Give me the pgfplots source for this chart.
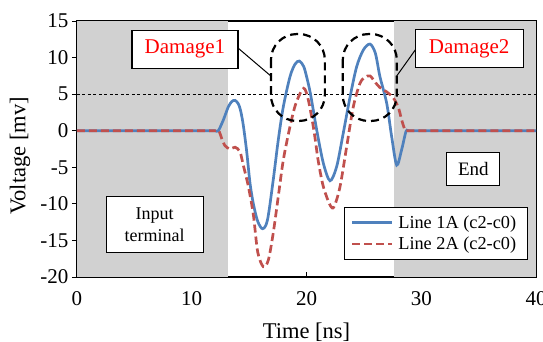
\documentclass[border=0pt]{standalone}
\usepackage{pgfplots}
\pgfplotsset{compat=1.18}
\usepackage{fontspec}
\setmainfont{Liberation Serif}
\definecolor{bgray}{RGB}{209,209,209}
\definecolor{lblue}{RGB}{79,129,189}
\definecolor{lred}{RGB}{192,80,77}
\begin{document}
\begin{tikzpicture}
\begin{axis}[
  at={(0,0)}, anchor=south west,
  width=459pt, height=256pt, scale only axis,
  xmin=0, xmax=40, ymin=-20, ymax=15,
  xtick={0,10,20,30,40}, ytick={-20,-15,...,15},
  xtick pos=lower, ytick pos=left,
  tick align=inside, major tick length=5pt,
  y tick style={xshift=-5pt},
  tick style={black, line width=0.8pt},
  axis line style={black, line width=1.1pt},
  /pgf/number format/assume math mode=true,
  ticklabel style={font=\fontsize{21}{21}\selectfont},
  xticklabel style={yshift=-11pt},
  yticklabel style={xshift=-5pt},
  xlabel={Time [ns]}, ylabel={Voltage [mv]},
  label style={font=\fontsize{22.5}{22.5}\selectfont},
  xlabel style={at={(axis description cs:0.5,0)}, anchor=north, inner sep=0pt, yshift=-46pt},
  ylabel style={at={(axis description cs:0,0.5)}, anchor=center, yshift=57pt, xshift=-7pt},
  legend style={at={(rel axis cs:0.983,0.066)}, anchor=south east, draw=black, line width=1pt, fill=white,
    font=\fontsize{18.3}{18.3}\selectfont, row sep=3pt, inner xsep=7pt, inner ysep=6.5pt,
    nodes={inner xsep=4.5pt}},
  legend cell align=left,
  legend image code/.code={\draw[#1] (0pt,0pt) -- (40pt,0pt);},
]
\addplot[fill=bgray, draw=none, forget plot] coordinates {(0,-20)(0,15)(13.2,15)(13.2,-20)} --cycle;
\addplot[fill=bgray, draw=none, forget plot] coordinates {(27.66,-20)(27.66,15)(40,15)(40,-20)} --cycle;
\addplot[black, line width=0.8pt, dash pattern=on 3pt off 2.5pt, forget plot] coordinates {(0,5)(40,5)};

\addplot[lblue, line width=2.7pt, smooth] coordinates {
(0,0)(11,0)(12,0)(12.31,0)(12.75,1.46)(13.19,3.28)(13.5,4.0)(13.77,4.15)(14.05,3.7)(14.25,2.8)(14.49,0.78)(14.79,-2.87)(15.08,-7.2)(15.37,-10.0)(15.75,-12.4)(16.18,-13.4)(16.6,-12.2)(17.1,-6.74)(17.54,-1.27)(17.98,3.28)(18.56,7.38)(19.0,9.1)(19.38,9.53)(19.75,8.8)(20.01,7.38)(20.35,5)(20.89,0.1)(21.47,-4.46)(22.05,-6.84)(22.63,-4.9)(23.2,-0.36)(23.8,4.65)(24.37,8.75)(24.95,11.03)(25.53,11.85)(26.0,10.6)(26.4,7.4)(26.99,3.75)(27.42,-0.8)(27.86,-4.7)(28.29,-2.6)(28.67,-0.1)(28.9,0)(30,0)(40,0)};
\addlegendentry{Line 1A (c2-c0)}

\addplot[lred, line width=2.7pt, dash pattern=on 8pt off 4pt, smooth] coordinates {
(0,0)(11,0)(12,0)(12.35,0)(12.61,-1.05)(12.9,-2.05)(13.33,-2.5)(13.77,-2.25)(14.2,-2.87)(14.49,-4.7)(14.93,-7.6)(15.37,-11.5)(15.75,-16.6)(16.24,-18.6)(16.67,-17.7)(17.1,-14.0)(17.54,-9.0)(17.98,-4.0)(18.56,0.55)(19.08,3.75)(19.75,5.8)(20.16,4.2)(20.65,0)(21.03,-4.2)(21.47,-7.66)(22.05,-10.16)(22.4,-10.4)(22.92,-7.66)(23.5,-2.19)(24.08,3.28)(24.66,6.48)(25.1,7.3)(25.53,7.5)(26.0,6.6)(26.4,5.9)(27.0,5.3)(27.56,4.5)(28.0,3.2)(28.29,1.5)(28.58,0.1)(28.75,0)(30,0)(40,0)};
\addlegendentry{Line 2A (c2-c0)}

\draw[black, line width=2.2pt, dash pattern=on 8pt off 5pt, rounded corners=26pt] (axis cs:16.9,13.22) rectangle (axis cs:21.6,1.33);
\draw[black, line width=2.2pt, dash pattern=on 8pt off 5pt, rounded corners=26pt] (axis cs:23.16,13.22) rectangle (axis cs:27.87,1.33);
\draw[black, line width=1pt] (axis cs:14.06,11.27) -- (axis cs:16.97,7.38);
\draw[black, line width=1pt] (axis cs:29.52,11.13) -- (axis cs:27.86,7.48);
\node[draw=black, line width=1.1pt, fill=white, minimum width=106pt, minimum height=38pt, inner sep=0pt, text=red, font=\fontsize{21}{21}\selectfont] at (axis cs:9.41,11.14) {Damage1};
\node[draw=black, line width=1.1pt, fill=white, minimum width=108pt, minimum height=38pt, inner sep=0pt, text=red, font=\fontsize{21}{21}\selectfont] at (axis cs:34.18,11.2) {Damage2};
\node[draw=black, line width=1.1pt, fill=white, minimum width=53pt, minimum height=33pt, inner sep=0pt, font=\fontsize{19}{19}\selectfont] at (axis cs:34.54,-5.24) {End};
\node[draw=black, line width=1.1pt, fill=white, minimum width=97pt, minimum height=55.6pt, inner sep=0pt, align=center, font=\fontsize{18}{21.7}\selectfont] at (axis cs:6.77,-12.82) {Input\\terminal};
\end{axis}
\pgfresetboundingbox
\path[use as bounding box] (-77pt,-64pt) rectangle (466pt,277pt);
\end{tikzpicture}
\end{document}
